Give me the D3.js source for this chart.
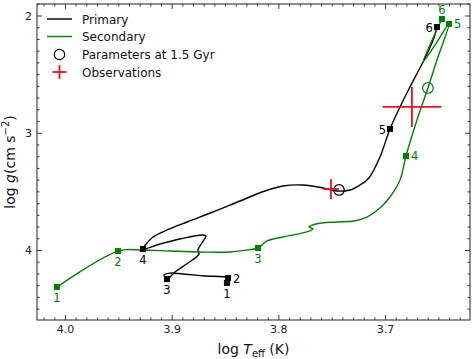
<!DOCTYPE html>
<html><head><meta charset="utf-8">
<script src="https://cdn.jsdelivr.net/npm/d3@7"></script>
<style>
html,body{margin:0;padding:0;background:#fff;}
svg{display:block;font-family:"DejaVu Sans",sans-serif;}
</style></head>
<body><svg id="c" width="474" height="359"></svg>
<script>
// ---- data ----
const xTicks = [4.0, 3.9, 3.8, 3.7];
const xTickLabels = ["4.0", "3.9", "3.8", "3.7"];
const yTicks = [2, 3, 4];
const yTickLabels = ["2", "3", "4"];

const priT = [3.8482,3.8472,3.8688,3.8894,3.9016,3.9072,3.9044,3.8969,3.8847,3.8744,3.8754,3.8716,3.8679,3.8707,3.8922,3.9110,3.9269,3.9231,3.9175,3.9044,3.8857,3.8613,3.8360,3.8126,3.7957,3.7769,3.7582,3.7451,3.7329,3.7235,3.7151,3.7048,3.6954,3.6860,3.6767,3.6635,3.6542,3.6514];
const priG = [4.281,4.239,4.222,4.205,4.197,4.214,4.248,4.188,4.111,4.034,4.000,3.940,3.881,3.872,3.906,3.949,3.991,3.940,3.889,3.829,3.761,3.676,3.582,3.497,3.454,3.446,3.471,3.497,3.488,3.446,3.386,3.207,2.968,2.780,2.610,2.380,2.192,2.098];
const priMarkT = [3.8482,3.8472,3.9044,3.9269,3.6954,3.6514];
const priMarkG = [4.281,4.239,4.248,3.991,2.968,2.098];
const priMarkLab = ["1","2","3","4","5","6"];
const priLabPos = ["below","right","below","below","left","left"];

const secT = [4.0075,3.9503,3.9278,3.9016,3.8735,3.8454,3.8285,3.8191,3.8107,3.7957,3.7732,3.7676,3.7713,3.7648,3.7451,3.7291,3.7170,3.7048,3.6954,3.6860,3.6804,3.6701,3.6598,3.6514,3.6401,3.6532,3.6645,3.6467];
const secG = [4.316,4.009,4.000,4.009,4.017,4.017,3.999,3.983,3.923,3.889,3.846,3.821,3.804,3.778,3.761,3.753,3.719,3.642,3.548,3.403,3.198,2.891,2.618,2.380,2.072,2.252,2.397,2.030];
const secMarkT = [4.0075,3.9503,3.8191,3.6804,3.6401,3.6467];
const secMarkG = [4.316,4.009,3.983,3.198,2.072,2.030];
const secMarkLab = ["1","2","3","4","5","6"];
const secLabPos = ["below","below","below","right","right","above"];

const paramT = [3.7432, 3.6598];
const paramG = [3.488, 2.618];
const obsT = [3.7507, 3.6748];
const obsG = [3.480, 2.780];
const obsTerr = [0.0075, 0.0276];
const obsGerr = [0.085, 0.17];

const legendLabels = ["Primary", "Secondary", "Parameters at 1.5 Gyr", "Observations"];

// ---- drawing ----
const L = 37, R = 470, T = 4, B = 320;
const svg = d3.select("#c");
const x = d3.scaleLinear().domain([4.0262, 3.6204]).range([L, R]);
const y = d3.scaleLinear().domain([1.902, 4.597]).range([T, B]);
const GREEN = "#008000", RED = "#e8141a";

const xMinor = d3.range(363, 403).map(d => d / 100).filter(v => !xTicks.some(t => Math.abs(t - v) < 1e-6));
const yMinor = d3.range(19, 46).map(d => d / 10).filter(v => !yTicks.some(t => Math.abs(t - v) < 1e-6));

function styleAxis(g){ g.select(".domain").remove(); g.selectAll("line").attr("stroke","#222").attr("stroke-width",0.9); g.selectAll("text").attr("fill","#222").attr("font-size","11px").attr("font-family","DejaVu Sans, sans-serif"); }

svg.append("g").attr("transform",`translate(0,${B})`).call(d3.axisBottom(x).tickValues(xTicks).tickFormat((d,i)=>xTickLabels[i]).tickSize(-5).tickPadding(5)).call(styleAxis);
svg.append("g").attr("transform",`translate(0,${B})`).call(d3.axisBottom(x).tickValues(xMinor).tickFormat("").tickSize(-2.5)).call(styleAxis);
svg.append("g").attr("transform",`translate(0,${T})`).call(d3.axisTop(x).tickValues(xTicks).tickFormat("").tickSize(-5)).call(styleAxis);
svg.append("g").attr("transform",`translate(0,${T})`).call(d3.axisTop(x).tickValues(xMinor).tickFormat("").tickSize(-2.5)).call(styleAxis);
svg.append("g").attr("transform",`translate(${L},0)`).call(d3.axisLeft(y).tickValues(yTicks).tickFormat((d,i)=>yTickLabels[i]).tickSize(-5).tickPadding(5)).call(styleAxis);
svg.append("g").attr("transform",`translate(${L},0)`).call(d3.axisLeft(y).tickValues(yMinor).tickFormat("").tickSize(-2.5)).call(styleAxis);
svg.append("g").attr("transform",`translate(${R},0)`).call(d3.axisRight(y).tickValues(yTicks).tickFormat("").tickSize(-5)).call(styleAxis);
svg.append("g").attr("transform",`translate(${R},0)`).call(d3.axisRight(y).tickValues(yMinor).tickFormat("").tickSize(-2.5)).call(styleAxis);
svg.append("rect").attr("x",L).attr("y",T).attr("width",R-L).attr("height",B-T).attr("fill","none").attr("stroke","#222").attr("stroke-width",1);

// axis labels
const xl = svg.append("text").attr("x",(L+R)/2).attr("y",354).attr("text-anchor","middle").attr("font-size","14px").attr("fill","#111");
xl.append("tspan").text("log ");
xl.append("tspan").attr("font-style","italic").text("T");
xl.append("tspan").attr("font-size","10px").attr("dy",3).text("eff");
xl.append("tspan").attr("dy",-3).text(" (K)");
const yl = svg.append("text").attr("transform",`translate(15,${(T+B)/2}) rotate(-90)`).attr("text-anchor","middle").attr("font-size","14px").attr("fill","#111");
yl.append("tspan").text("log ");
yl.append("tspan").attr("font-style","italic").text("g");
yl.append("tspan").text("(cm s");
yl.append("tspan").attr("font-size","10px").attr("dy",-6).text("−2");
yl.append("tspan").attr("dy",6).text(")");

const plot = svg.append("g");
const line = d3.line().x(d=>x(d[0])).y(d=>y(d[1])).curve(d3.curveCatmullRom.alpha(0.5));
plot.append("path").datum(priT.map((t,i)=>[t,priG[i]])).attr("d",line).attr("fill","none").attr("stroke","#000").attr("stroke-width",1.4).attr("stroke-linejoin","round");
plot.append("path").datum(secT.map((t,i)=>[t,secG[i]])).attr("d",line).attr("fill","none").attr("stroke",GREEN).attr("stroke-width",1.4).attr("stroke-linejoin","round");

function markers(Ts, Gs, labs, pos, color){
  const ms = 6;
  Ts.forEach((t,i)=>{
    const px = x(t), py = y(Gs[i]);
    plot.append("rect").attr("x",px-ms/2).attr("y",py-ms/2).attr("width",ms).attr("height",ms).attr("fill",color);
    let lx = px, ly = py, anchor = "middle";
    if (pos[i]==="below"){ ly = py + 15; }
    else if (pos[i]==="above"){ ly = py - 5; }
    else if (pos[i]==="right"){ lx = px + 5; ly = py + 4.5; anchor = "start"; }
    else if (pos[i]==="left"){ lx = px - 4; ly = py + 5; anchor = "end"; }
    plot.append("text").attr("x",lx).attr("y",ly).attr("text-anchor",anchor).attr("font-size","11.5px").attr("fill",color).text(labs[i]);
  });
}
markers(priMarkT, priMarkG, priMarkLab, priLabPos, "#000");
markers(secMarkT, secMarkG, secMarkLab, secLabPos, GREEN);

const pColors = ["#000", GREEN];
paramT.forEach((t,i)=>{
  plot.append("circle").attr("cx",x(t)).attr("cy",y(paramG[i])).attr("r",5.3).attr("fill","none").attr("stroke",pColors[i]).attr("stroke-width",1.2);
});
obsT.forEach((t,i)=>{
  const g = obsG[i];
  plot.append("line").attr("x1",x(t-obsTerr[i])).attr("x2",x(t+obsTerr[i])).attr("y1",y(g)).attr("y2",y(g)).attr("stroke",RED).attr("stroke-width",1.8);
  plot.append("line").attr("x1",x(t)).attr("x2",x(t)).attr("y1",y(g-obsGerr[i])).attr("y2",y(g+obsGerr[i])).attr("stroke",RED).attr("stroke-width",1.8);
});

// legend
const lg = svg.append("g");
const rowsY = [19, 36.5, 54.5, 72];
lg.append("line").attr("x1",47).attr("x2",72).attr("y1",rowsY[0]).attr("y2",rowsY[0]).attr("stroke","#000").attr("stroke-width",1.4);
lg.append("line").attr("x1",47).attr("x2",72).attr("y1",rowsY[1]).attr("y2",rowsY[1]).attr("stroke",GREEN).attr("stroke-width",1.4);
lg.append("circle").attr("cx",59.5).attr("cy",rowsY[2]).attr("r",5.2).attr("fill","none").attr("stroke","#000").attr("stroke-width",1.2);
lg.append("line").attr("x1",52.5).attr("x2",66.5).attr("y1",rowsY[3]).attr("y2",rowsY[3]).attr("stroke",RED).attr("stroke-width",1.8);
lg.append("line").attr("x1",59.5).attr("x2",59.5).attr("y1",rowsY[3]-7).attr("y2",rowsY[3]+7).attr("stroke",RED).attr("stroke-width",1.8);
legendLabels.forEach((s,i)=>{
  lg.append("text").attr("x",82).attr("y",rowsY[i]+4.5).attr("font-size","12px").attr("fill","#111").text(s);
});
</script></body></html>
